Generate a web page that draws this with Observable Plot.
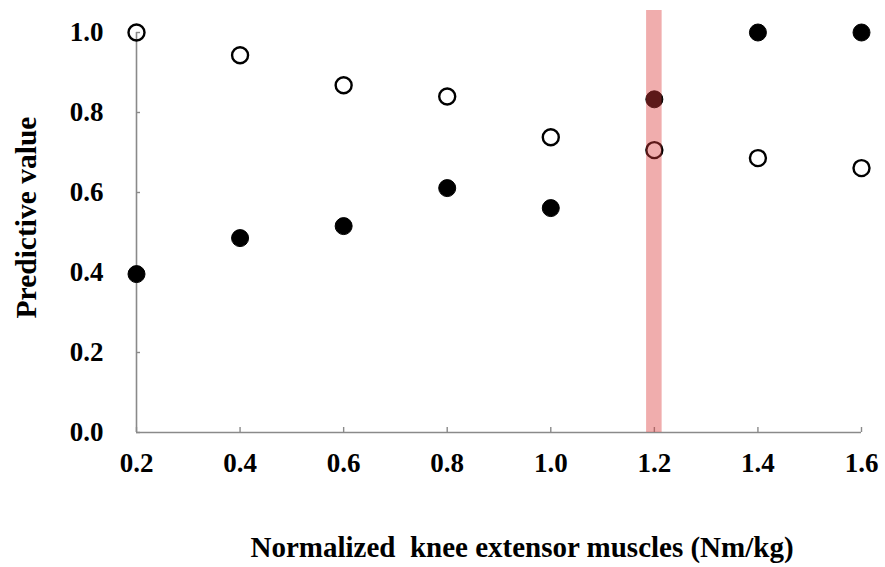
<!DOCTYPE html>
<html>
<head>
<meta charset="utf-8">
<script src="https://cdn.jsdelivr.net/npm/d3@7"></script>
<script src="https://cdn.jsdelivr.net/npm/@observablehq/plot@0.6"></script>
<style>
  html, body { margin: 0; padding: 0; background: #fff; }
</style>
</head>
<body>
<div id="chart"></div>
<script>
const xValues = [0.2, 0.4, 0.6, 0.8, 1.0, 1.2, 1.4, 1.6];
const openValues = [1.0, 0.943, 0.868, 0.840, 0.738, 0.706, 0.686, 0.661];
const filledValues = [0.396, 0.486, 0.516, 0.611, 0.561, 0.833, 1.0, 1.0];
const xTicks = [0.2, 0.4, 0.6, 0.8, 1.0, 1.2, 1.4, 1.6];
const yTicks = [0.0, 0.2, 0.4, 0.6, 0.8, 1.0];
const band = [{x1: 1.185, x2: 1.215, y1: 0, y2: 1.055}];
const xLabel = "Normalized  knee extensor muscles (Nm/kg)";
const yLabel = "Predictive value";

const openData = xValues.map((x, i) => ({x, y: openValues[i]}));
const filledData = xValues.map((x, i) => ({x, y: filledValues[i]}));

const font = "'Liberation Serif', 'Times New Roman', serif";
const fmt = d3.format(".1f");

const chart = Plot.plot({
  width: 885,
  height: 567,
  marginLeft: 136,
  marginRight: 24,
  marginTop: 32,
  marginBottom: 135,
  style: {fontFamily: font, fontWeight: "bold", color: "#000", background: "#fff"},
  x: {domain: [0.2, 1.6], axis: null},
  y: {domain: [0, 1], axis: null},
  marks: [
    Plot.ruleX([0.2], {y1: 0, y2: 1, stroke: "#8a8a8a", strokeWidth: 1.6}),
    Plot.ruleY([0], {x1: 0.2, x2: 1.6, stroke: "#8a8a8a", strokeWidth: 1.6}),
    Plot.axisY(yTicks, {tickSize: -4, text: null, stroke: "#8a8a8a", strokeWidth: 1.4, label: null}),
    Plot.axisX(xTicks, {tickSize: -5, text: null, stroke: "#8a8a8a", strokeWidth: 1.4, label: null}),
    Plot.text(yTicks, {y: d => d, text: d => fmt(d), frameAnchor: "left", textAnchor: "end", dx: -33, fontSize: 27, fontWeight: "bold", fill: "#000"}),
    Plot.text(xTicks, {x: d => d, text: d => fmt(d), frameAnchor: "bottom", lineAnchor: "top", dy: 20, fontSize: 27, fontWeight: "bold", fill: "#000"}),
    Plot.dot(filledData, {x: "x", y: "y", r: 8.5, fill: "#000", stroke: "#000", strokeWidth: 1}),
    Plot.dot(openData, {x: "x", y: "y", r: 8, fill: "none", stroke: "#000", strokeWidth: 2.4}),
    Plot.rect(band, {x1: "x1", x2: "x2", y1: "y1", y2: "y2", fill: "#dc3c3c", fillOpacity: 0.42}),
    Plot.text([yLabel], {frameAnchor: "left", textAnchor: "middle", dx: -110, dy: -15, rotate: -90, fontSize: 29.5, fontWeight: "bold", fill: "#000"}),
    Plot.text([xLabel], {frameAnchor: "bottom", dy: 124, dx: 23, fontSize: 29, fontWeight: "bold", fill: "#000"})
  ]
});

document.getElementById("chart").appendChild(chart);
</script>
</body>
</html>
